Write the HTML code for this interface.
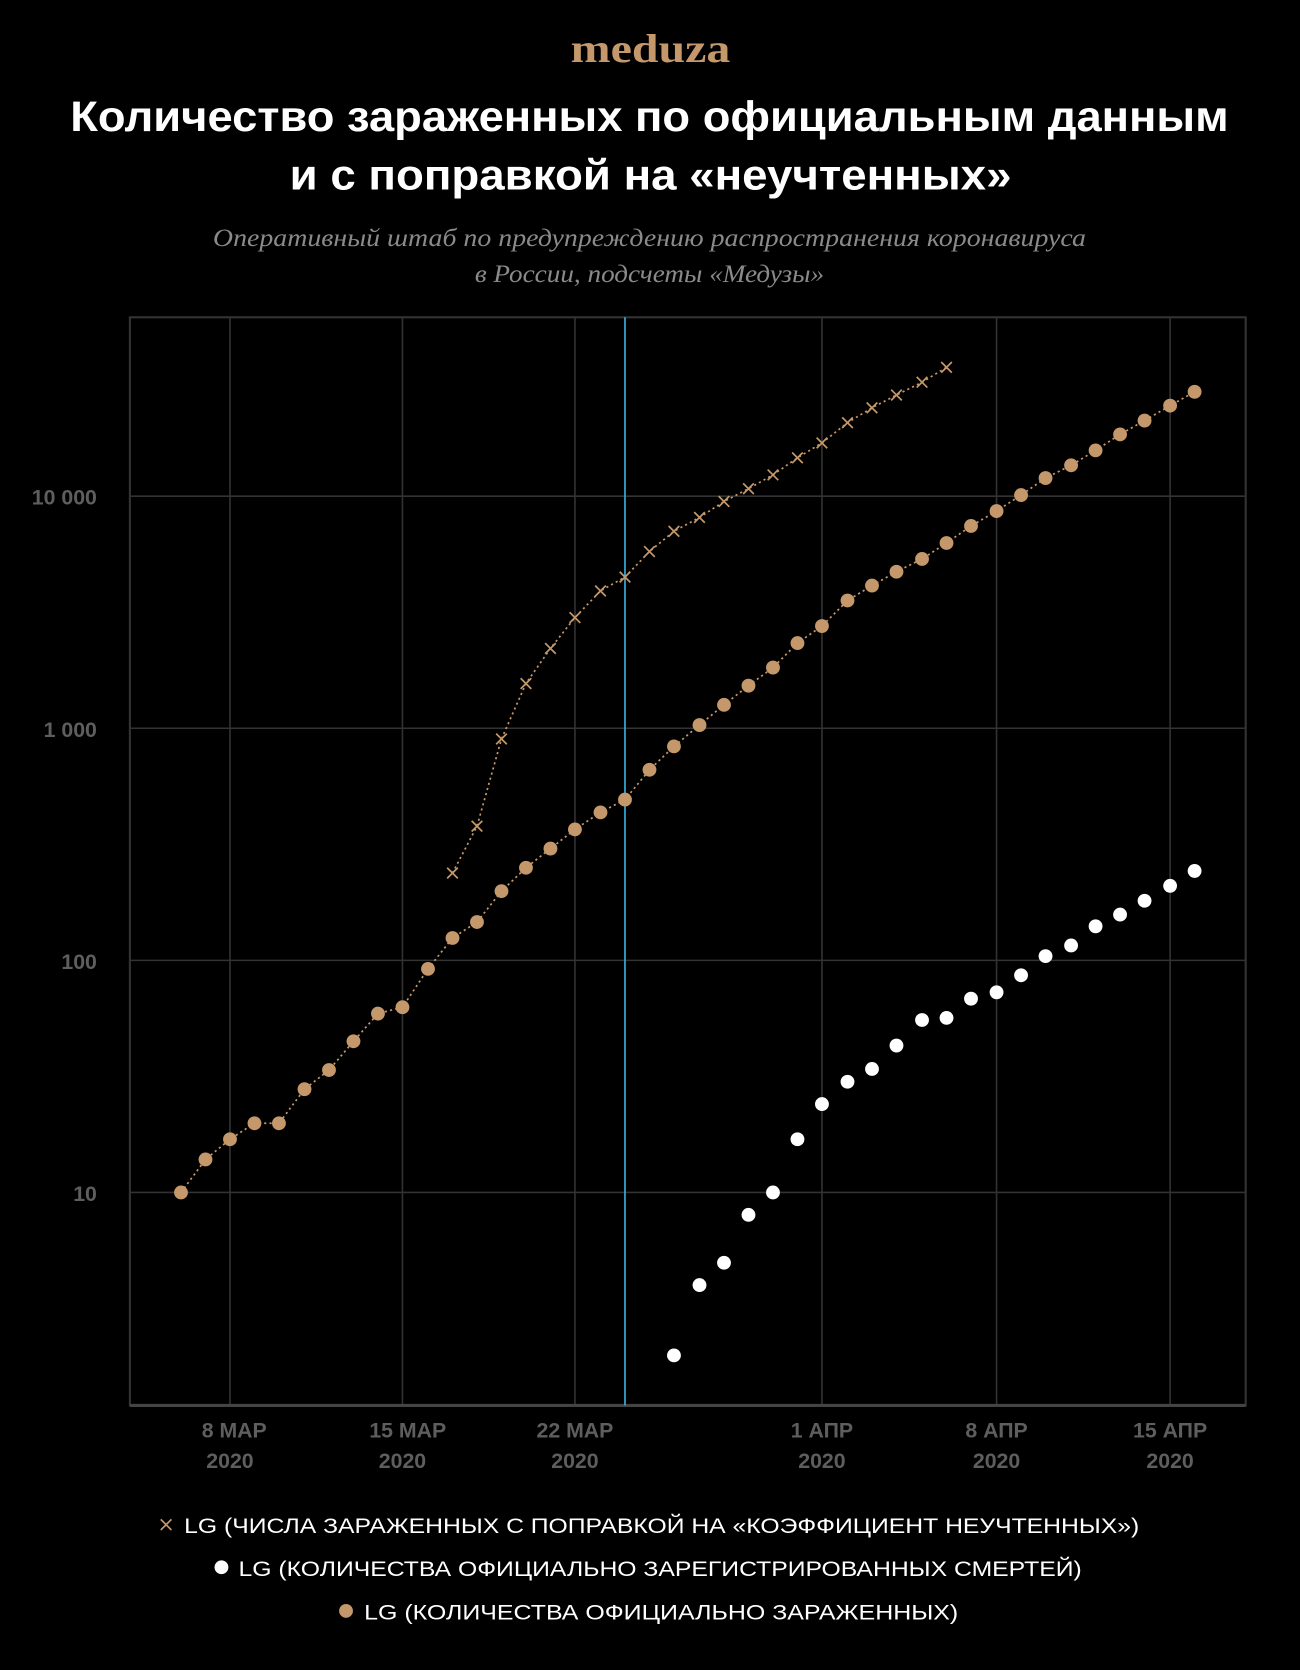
<!DOCTYPE html>
<html><head><meta charset="utf-8"><style>
html,body{margin:0;padding:0;background:#000;width:1300px;height:1670px;overflow:hidden}
svg{display:block}
</style></head><body>
<svg width="1300" height="1670" viewBox="0 0 1221 1568.5" xmlns="http://www.w3.org/2000/svg">
<rect width="1221" height="1568.5" fill="#000"/>
<text x="536" y="58" textLength="150" lengthAdjust="spacingAndGlyphs" font-family="Liberation Serif, serif" font-weight="bold" font-size="38" fill="#c4986a">meduza</text>
<g font-family="Liberation Sans, sans-serif" font-weight="bold" font-size="40" fill="#fff">
<text x="66" y="123" textLength="1088" lengthAdjust="spacingAndGlyphs">Количество зараженных по официальным данным</text>
<text x="272" y="178" textLength="678" lengthAdjust="spacingAndGlyphs">и с поправкой на «неучтенных»</text>
</g>
<g font-family="Liberation Serif, serif" font-style="italic" font-size="24" fill="#8a8a8a">
<text x="200" y="231" textLength="820" lengthAdjust="spacingAndGlyphs">Оперативный штаб по предупреждению распространения коронавируса</text>
<text x="446" y="265" textLength="328" lengthAdjust="spacingAndGlyphs">в России, подсчеты «Медузы»</text>
</g>
<g stroke="#333" stroke-width="1.5" fill="none">
<rect x="122" y="298" width="1048" height="1022" stroke-width="2"/>
<line x1="216" y1="298" x2="216" y2="1320"/><line x1="378" y1="298" x2="378" y2="1320"/>
<line x1="540" y1="298" x2="540" y2="1320"/><line x1="772" y1="298" x2="772" y2="1320"/>
<line x1="936" y1="298" x2="936" y2="1320"/><line x1="1099" y1="298" x2="1099" y2="1320"/>
<line x1="122" y1="466" x2="1170" y2="466"/><line x1="122" y1="684" x2="1170" y2="684"/>
<line x1="122" y1="902" x2="1170" y2="902"/><line x1="122" y1="1120" x2="1170" y2="1120"/>
</g>
<line x1="122" y1="1320" x2="1170" y2="1320" stroke="#444" stroke-width="3"/>
<line x1="587" y1="298" x2="587" y2="1320" stroke="#3ab4e6" stroke-width="1.5"/>
<g font-family="Liberation Sans, sans-serif" font-weight="bold" font-size="20" fill="#5e5e5e" text-anchor="end">
<text x="91" y="474">10 000</text><text x="91" y="692">1 000</text><text x="91" y="910">100</text><text x="91" y="1128">10</text>
</g>
<g font-family="Liberation Sans, sans-serif" font-weight="bold" font-size="20" fill="#5e5e5e" text-anchor="middle">
<text x="220" y="1350">8 МАР</text><text x="216" y="1379">2020</text>
<text x="383" y="1350">15 МАР</text><text x="378" y="1379">2020</text>
<text x="540" y="1350">22 МАР</text><text x="540" y="1379">2020</text>
<text x="772" y="1350">1 АПР</text><text x="772" y="1379">2020</text>
<text x="936" y="1350">8 АПР</text><text x="936" y="1379">2020</text>
<text x="1099" y="1350">15 АПР</text><text x="1099" y="1379">2020</text>
</g>
<polyline fill="none" stroke="#c4986a" stroke-width="1.6" stroke-dasharray="2 3" points="170,1120 193,1089 216,1070 239,1055 262,1055 286,1023 309,1005 332,978 355,952 378,946 402,910 425,881 448,866 471,837 494,815 517,797 540,779 564,763 587,751 610,723 633,701 657,681 680,662 703,644 726,627 749,604 772,588 796,564 819,550 842,537 866,525 889,510 912,494 936,480 959,465 982,449 1006,437 1029,423 1052,408 1075,395 1099,381 1122,368"/>
<polyline fill="none" stroke="#c4986a" stroke-width="1.6" stroke-dasharray="2 3" points="425,820 448,776 471,694 494,642 517,609 540,580 564,555 587,542 610,518 633,499 657,486 680,471 703,459 726,446 749,430 772,416 796,397 819,383 842,371 866,359 889,345"/>
<g fill="#c4986a">
<circle cx="170" cy="1120" r="6.5"/><circle cx="193" cy="1089" r="6.5"/><circle cx="216" cy="1070" r="6.5"/><circle cx="239" cy="1055" r="6.5"/><circle cx="262" cy="1055" r="6.5"/><circle cx="286" cy="1023" r="6.5"/><circle cx="309" cy="1005" r="6.5"/><circle cx="332" cy="978" r="6.5"/><circle cx="355" cy="952" r="6.5"/><circle cx="378" cy="946" r="6.5"/><circle cx="402" cy="910" r="6.5"/><circle cx="425" cy="881" r="6.5"/><circle cx="448" cy="866" r="6.5"/><circle cx="471" cy="837" r="6.5"/><circle cx="494" cy="815" r="6.5"/><circle cx="517" cy="797" r="6.5"/><circle cx="540" cy="779" r="6.5"/><circle cx="564" cy="763" r="6.5"/><circle cx="587" cy="751" r="6.5"/><circle cx="610" cy="723" r="6.5"/><circle cx="633" cy="701" r="6.5"/><circle cx="657" cy="681" r="6.5"/><circle cx="680" cy="662" r="6.5"/><circle cx="703" cy="644" r="6.5"/><circle cx="726" cy="627" r="6.5"/><circle cx="749" cy="604" r="6.5"/><circle cx="772" cy="588" r="6.5"/><circle cx="796" cy="564" r="6.5"/><circle cx="819" cy="550" r="6.5"/><circle cx="842" cy="537" r="6.5"/><circle cx="866" cy="525" r="6.5"/><circle cx="889" cy="510" r="6.5"/><circle cx="912" cy="494" r="6.5"/><circle cx="936" cy="480" r="6.5"/><circle cx="959" cy="465" r="6.5"/><circle cx="982" cy="449" r="6.5"/><circle cx="1006" cy="437" r="6.5"/><circle cx="1029" cy="423" r="6.5"/><circle cx="1052" cy="408" r="6.5"/><circle cx="1075" cy="395" r="6.5"/><circle cx="1099" cy="381" r="6.5"/><circle cx="1122" cy="368" r="6.5"/>
</g>
<g fill="#fff">
<circle cx="633" cy="1273" r="6.5"/><circle cx="657" cy="1207" r="6.5"/><circle cx="680" cy="1186" r="6.5"/><circle cx="703" cy="1141" r="6.5"/><circle cx="726" cy="1120" r="6.5"/><circle cx="749" cy="1070" r="6.5"/><circle cx="772" cy="1037" r="6.5"/><circle cx="796" cy="1016" r="6.5"/><circle cx="819" cy="1004" r="6.5"/><circle cx="842" cy="982" r="6.5"/><circle cx="866" cy="958" r="6.5"/><circle cx="889" cy="956" r="6.5"/><circle cx="912" cy="938" r="6.5"/><circle cx="936" cy="932" r="6.5"/><circle cx="959" cy="916" r="6.5"/><circle cx="982" cy="898" r="6.5"/><circle cx="1006" cy="888" r="6.5"/><circle cx="1029" cy="870" r="6.5"/><circle cx="1052" cy="859" r="6.5"/><circle cx="1075" cy="846" r="6.5"/><circle cx="1099" cy="832" r="6.5"/><circle cx="1122" cy="818" r="6.5"/>
</g>
<g stroke="#c4986a" stroke-width="1.6">
<path d="M420,815l10,10M430,815l-10,10M443,771l10,10M453,771l-10,10M466,689l10,10M476,689l-10,10M489,637l10,10M499,637l-10,10M512,604l10,10M522,604l-10,10M535,575l10,10M545,575l-10,10M559,550l10,10M569,550l-10,10M582,537l10,10M592,537l-10,10M605,513l10,10M615,513l-10,10M628,494l10,10M638,494l-10,10M652,481l10,10M662,481l-10,10M675,466l10,10M685,466l-10,10M698,454l10,10M708,454l-10,10M721,441l10,10M731,441l-10,10M744,425l10,10M754,425l-10,10M767,411l10,10M777,411l-10,10M791,392l10,10M801,392l-10,10M814,378l10,10M824,378l-10,10M837,366l10,10M847,366l-10,10M861,354l10,10M871,354l-10,10M884,340l10,10M894,340l-10,10"/>
</g>
<g font-family="Liberation Sans, sans-serif" font-size="20" fill="#fff" lengthAdjust="spacingAndGlyphs">
<path d="M151,1427l10,10M161,1427l-10,10" stroke="#c4986a" stroke-width="1.6"/>
<text x="173" y="1440" textLength="897" lengthAdjust="spacingAndGlyphs">LG (ЧИСЛА ЗАРАЖЕННЫХ С ПОПРАВКОЙ НА «КОЭФФИЦИЕНТ НЕУЧТЕННЫХ»)</text>
<circle cx="208" cy="1472" r="6.5" fill="#fff"/>
<text x="224" y="1480" textLength="792" lengthAdjust="spacingAndGlyphs">LG (КОЛИЧЕСТВА ОФИЦИАЛЬНО ЗАРЕГИСТРИРОВАННЫХ СМЕРТЕЙ)</text>
<circle cx="325" cy="1513" r="6.5" fill="#c4986a"/>
<text x="342" y="1521" textLength="558" lengthAdjust="spacingAndGlyphs">LG (КОЛИЧЕСТВА ОФИЦИАЛЬНО ЗАРАЖЕННЫХ)</text>
</g>
</svg>
</body></html>
